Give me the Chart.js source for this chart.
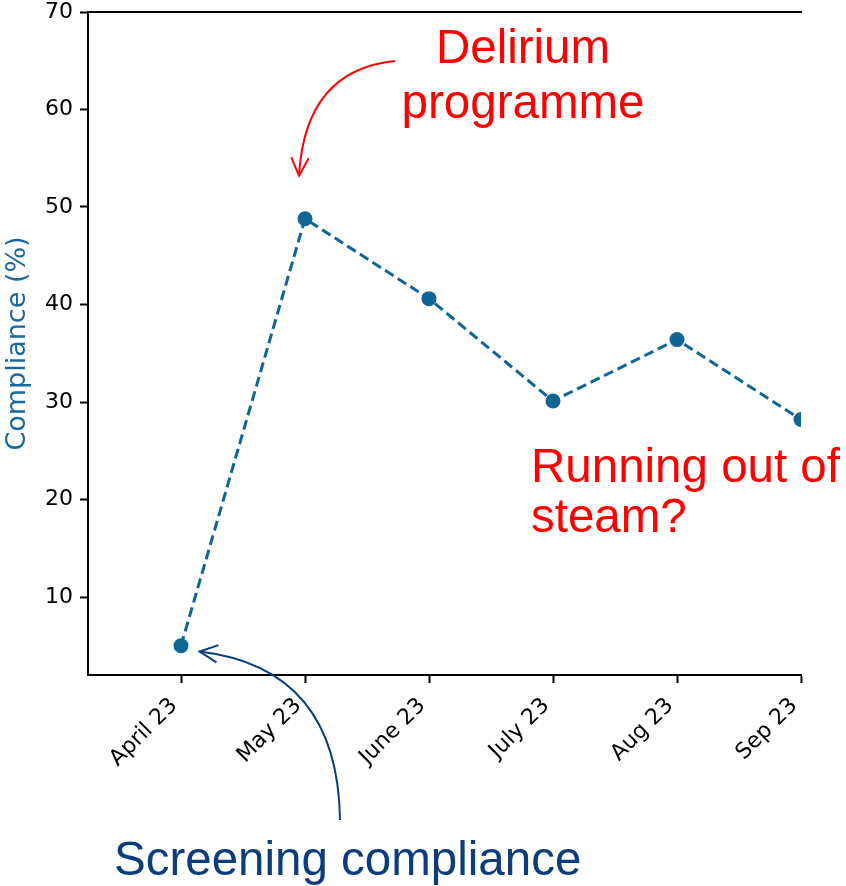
<!DOCTYPE html>
<html>
<head>
<meta charset="utf-8">
<script src="https://cdn.jsdelivr.net/npm/chart.js@4.4.1/dist/chart.umd.min.js"></script>
<style>
    html, body { margin: 0; padding: 0; background: #fff; }
    #wrap { width: 846px; height: 886px; position: relative; }
</style>
</head>
<body>
<div id="wrap"><canvas id="complianceChart" width="846" height="886"></canvas></div>
<script>
const months = ['April 23', 'May 23', 'June 23', 'July 23', 'Aug 23', 'Sep 23'];
const compliance = [5.0, 48.8, 40.6, 30.1, 36.4, 28.2];
const yTicks = [10, 20, 30, 40, 50, 60, 70];

const lineBlue = '#0f6596';
const darkBlue = '#0b3c7c';
const red = '#ff0000';
const tickFont = { family: 'DejaVu Sans', size: 22 };
const noteFont = '47.5px "Liberation Sans", Arial, sans-serif';

function drawArrow(ctx, from, ctrl, to, color) {
    ctx.save();
    ctx.strokeStyle = color;
    ctx.lineWidth = 2;
    ctx.beginPath();
    ctx.moveTo(from.x, from.y);
    ctx.quadraticCurveTo(ctrl.x, ctrl.y, to.x, to.y);
    ctx.stroke();

    // open arrow head, like matplotlib '->'
    const ang = Math.atan2(to.y - ctrl.y, to.x - ctrl.x);
    const len = 20, spread = 0.45;
    ctx.beginPath();
    ctx.moveTo(to.x - len * Math.cos(ang - spread), to.y - len * Math.sin(ang - spread));
    ctx.lineTo(to.x, to.y);
    ctx.lineTo(to.x - len * Math.cos(ang + spread), to.y - len * Math.sin(ang + spread));
    ctx.stroke();
    ctx.restore();
}

// keep the plot box where the reference has it
function noScalePadding(s) {
    s.paddingTop = 0;
    s.paddingBottom = 0;
    s.paddingLeft = 0;
    s.paddingRight = 0;
}

const annotations = {
    id: 'annotations',
    afterDraw(chart) {
        const ctx = chart.ctx;
        const x = chart.scales.x;
        const y = chart.scales.y;

        ctx.save();
        ctx.font = noteFont;
        ctx.fillStyle = red;
        ctx.textBaseline = 'alphabetic';
        ctx.textAlign = 'center';
        ctx.fillText('Delirium', 523, 63);
        ctx.fillText('programme', 523, 118);

        ctx.textAlign = 'left';
        ctx.fillText('Running out of', 531, 482);
        ctx.fillText('steam?', 531, 532);

        ctx.fillStyle = darkBlue;
        ctx.fillText('Screening compliance', 114, 875);
        ctx.restore();

        // red arrow ends just above the May point
        const redTip = { x: x.getPixelForValue(1) - 6, y: y.getPixelForValue(53.2) };
        drawArrow(ctx, { x: 395, y: 61 }, { x: 305, y: 70 }, redTip, red);

        // blue arrow ends just right of the April point
        const blueTip = { x: x.getPixelForValue(0.15), y: y.getPixelForValue(4.4) };
        drawArrow(ctx, { x: 340, y: 820 }, { x: 338, y: 668 }, blueTip, darkBlue);
    }
};

new Chart(document.getElementById('complianceChart').getContext('2d'), {
    type: 'line',
    data: {
        datasets: [{
            label: 'Compliance (%)',
            data: compliance.map((v, i) => ({ x: i, y: v })),
            borderColor: lineBlue,
            borderWidth: 3,
            borderDash: [10, 5],
            pointRadius: 7.5,
            pointBackgroundColor: lineBlue,
            pointBorderWidth: 0,
            tension: 0,
            clip: { left: 20, top: 20, right: 0, bottom: 20 }
        }]
    },
    options: {
        responsive: false,
        animation: false,
        layout: { padding: { left: 0, top: 12, right: 45, bottom: 0 } },
        plugins: {
            legend: { display: false },
            tooltip: { enabled: false }
        },
        scales: {
            x: {
                type: 'linear',
                position: 'bottom',
                min: -0.75,
                max: 5,
                afterBuildTicks: s => { s.ticks = months.map((_, i) => ({ value: i })); },
                afterFit: s => { s.height = 211; noScalePadding(s); },
                ticks: {
                    callback: v => months[v],
                    color: '#000',
                    font: tickFont,
                    minRotation: 45,
                    maxRotation: 45,
                    autoSkip: false,
                    padding: 10,
                    labelOffset: -7
                },
                grid: { drawOnChartArea: false, tickLength: 8, tickWidth: 2, tickColor: '#000' },
                border: { color: '#000', width: 2 }
            },
            top: {
                type: 'linear',
                position: 'top',
                min: -0.75,
                max: 5,
                afterFit: s => { s.height = 0; noScalePadding(s); },
                ticks: { display: false },
                grid: { drawOnChartArea: false, drawTicks: false },
                border: { color: '#000', width: 2 }
            },
            y: {
                type: 'linear',
                min: 2,
                max: 70,
                afterBuildTicks: s => { s.ticks = yTicks.map(v => ({ value: v })); },
                afterFit: s => { s.width = 88; noScalePadding(s); },
                ticks: { color: '#000', font: tickFont, padding: 7 },
                grid: { drawOnChartArea: false, tickLength: 8, tickWidth: 2, tickColor: '#000' },
                border: { color: '#000', width: 2 },
                title: {
                    display: true,
                    text: 'Compliance (%)',
                    color: '#1a679c',
                    font: { family: 'DejaVu Sans', size: 27 },
                    padding: { top: 2, bottom: 0 }
                }
            }
        }
    },
    plugins: [annotations]
});
</script>
</body>
</html>
